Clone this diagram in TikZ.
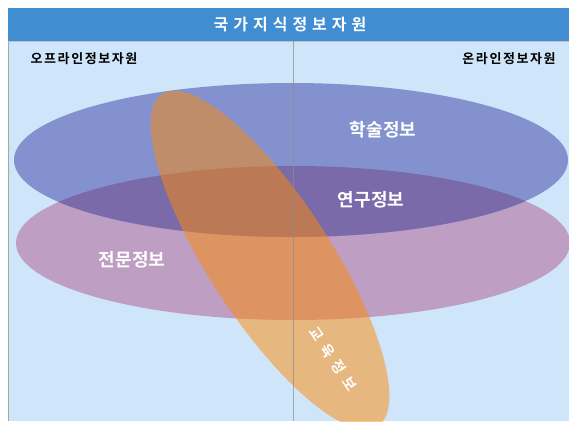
\documentclass[tikz,border=0pt]{standalone}
\usepackage{fontspec}
\setmainfont{Noto Sans CJK KR}
\newfontfamily\krb{Noto Sans CJK KR Bold}
\definecolor{bgblue}{RGB}{207,229,250}
\definecolor{barblue}{RGB}{64,141,210}
\definecolor{ellblue}{RGB}{131,146,206}
\definecolor{ellpink}{RGB}{190,158,194}
\definecolor{ellmix}{RGB}{123,106,170}
\definecolor{ellorange}{RGB}{255,137,0}
\newcommand{\gp}{\hspace{5pt}}
\newcommand{\gq}{\hspace{6.5pt}}
\tikzset{
  lab/.style={text=white, font=\krb\fontsize{18}{18}\selectfont, inner sep=0pt},
  head/.style={text=black, font=\krb\fontsize{13}{13}\selectfont\addfontfeature{LetterSpace=12}, inner sep=0pt},
}
\begin{document}
\begin{tikzpicture}[x=1pt,y=-1pt]
\useasboundingbox (0,0) rectangle (569,421);
\fill[white] (0,0) rectangle (569,421);
% panel
\fill[bgblue] (8,41) rectangle (569,421);
\draw[gray!70, line width=0.6pt] (8.5,41) -- (8.5,421);
\draw[gray!50, line width=0.5pt] (8,41) -- (569,41);
% title bar
\fill[barblue] (8,8) rectangle (569,41);
\node[text=white, font=\krb\fontsize{16}{16}\selectfont, inner sep=0pt] (title) at (290,25) {국\gp 가\gp 지\gp 식\gp 정\gp 보\gp 자\gp 원};
% ellipses
\fill[ellpink] (293,243) ellipse [x radius=277pt, y radius=77pt];
\fill[ellblue] (291,160) ellipse [x radius=277pt, y radius=77pt];
\begin{scope}
  \clip (293,243) ellipse [x radius=277pt, y radius=77pt];
  \fill[ellmix] (291,160) ellipse [x radius=277pt, y radius=77pt];
\end{scope}
\begin{scope}
  \clip (0,0) rectangle (569,421);
  \fill[ellorange, opacity=0.49, rotate around={-57:(270,260)}] (270,260) ellipse [x radius=198pt, y radius=61pt];
\end{scope}
% divider
\draw[black!45, opacity=0.7, line width=0.6pt] (293,41) -- (293,421);
% labels
\node[head] (off) at (84,59) {오프라인정보자원};
\node[head] (on) at (509,59) {온라인정보자원};
\node[lab] (hak) at (383,130) {학술정보};
\node[lab] (yeon) at (371,200) {연구정보};
\node[lab] (jeon) at (132,260) {전문정보};
\node[lab, font=\krb\fontsize{14.5}{14.5}\selectfont, rotate=-56] (gyo) at (333,359) {교\gq 육\gq 정\gq 보};
\end{tikzpicture}
\end{document}
